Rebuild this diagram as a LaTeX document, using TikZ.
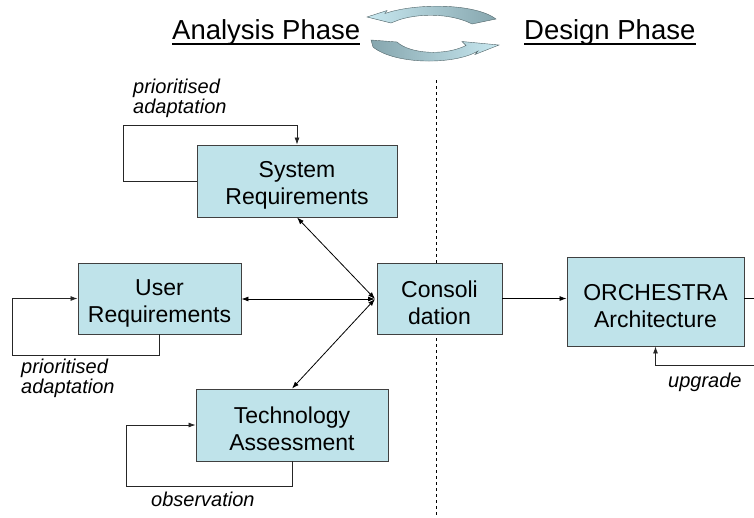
\documentclass[tikz,border=0pt]{standalone}
\usepackage{fontspec}
\setmainfont{Liberation Sans}
\usetikzlibrary{arrows.meta}
\definecolor{boxblue}{HTML}{BFE3EA}
\definecolor{arrlight}{HTML}{C8E8F0}
\definecolor{arrdark}{HTML}{86A6AE}
\newcommand\tstrut{\rule{0pt}{25pt}}
\tikzset{
  box/.style={draw=black!75, line width=0.9pt, fill=boxblue, align=center, inner sep=0pt,
    font=\fontsize{23}{27}\selectfont},
  lbl/.style={font=\fontsize{20}{19.5}\selectfont\itshape, align=left, inner sep=0pt},
  hdr/.style={font=\fontsize{27.5}{30}\selectfont, inner sep=0pt},
  conn/.style={line width=0.8pt, -{Latex[length=7pt,width=5pt]}},
  bconn/.style={line width=0.8pt, {Latex[length=7pt,width=5pt]}-{Latex[length=7pt,width=5pt]}},
  loopl/.style={line width=0.8pt, black!85, -{Latex[length=7pt,width=5pt]}},
  cyc/.style={draw=arrdark!60!black, line width=0.4pt},
}
\begin{document}
\begin{tikzpicture}[x=1pt,y=-1pt]
\useasboundingbox (0,0) rectangle (754,517);
% header
\node[hdr, anchor=base west] (ana) at (172,39) {Analysis Phase};
\draw[line width=1.3pt] (ana.south west |- 0,44) -- (ana.south east |- 0,44);
\node[hdr, anchor=base west] (des) at (524,39) {Design Phase};
\draw[line width=1.3pt] (des.south west |- 0,44) -- (des.south east |- 0,44);
% cycle icon
\shade[cyc, left color=arrlight, right color=arrdark]
  (367,17) -- (387,10.5) -- (385,13.5)
  .. controls (415,3) and (475,3) .. (496,19) -- (472,24)
  .. controls (455,15) and (425,12) .. (400,19.5) -- (391,23) -- cycle;
\shade[cyc, left color=arrdark, right color=arrlight]
  (371,40) -- (373,47)
  .. controls (395,65) and (455,65) .. (478,51) -- (475,54.5) -- (499,45) -- (462,41.5) -- (466,45.5)
  .. controls (445,56) and (410,54) .. (397,42) -- cycle;
% phase separator
\draw[line width=0.8pt, dash pattern=on 3pt off 3pt] (436,80) -- (436,517);
% boxes
\node[box, minimum width=200, minimum height=72] (sys) at (297,181) {\tstrut System\\Requirements};
\node[box, minimum width=163, minimum height=71] (usr) at (159.5,298.5) {\tstrut User\\Requirements};
\node[box, minimum width=125, minimum height=71] (con) at (439.5,298.5) {\tstrut Consoli\\dation};
\node[box, minimum width=192, minimum height=72] (tec) at (292,425) {\tstrut Technology\\Assessment};
\node[box, minimum width=177, minimum height=89] (orc) at (655.5,301.5) {\tstrut ORCHESTRA\\Architecture};
% junction
\coordinate (j) at (375,299);
\draw[bconn] (j) -- (sys.south);
\draw[bconn] (j) -- (usr.east |- j);
\draw[bconn] (j) -- (tec.north);
\draw[conn] (con.east) -- (con.east -| orc.west);
\coordinate (oe) at (754,298.5);
\draw[line width=0.8pt] (orc.east |- oe) -- (oe);
% feedback loops
\draw[loopl] (sys.west) -- (123,181) -- (123,125) -- (sys.north |- 0,125) -- (sys.north);
\node[lbl, anchor=north west] (l1) at (133,79) {prioritised\\adaptation};
\draw[loopl] (usr.south) -- (usr.south |- 0,355) -- (12,355) -- (12,298.5) -- (usr.west);
\node[lbl, anchor=north west] (l2) at (21,359) {prioritised\\adaptation};
\draw[loopl] (tec.south) -- (tec.south |- 0,486) -- (126,486) -- (126,425) -- (tec.west);
\node[lbl, anchor=north west] (l3) at (151,492) {observation};
\coordinate (ue) at (754,365);
\draw[loopl] (ue) -- (orc.south |- ue) -- (orc.south);
\node[lbl, anchor=north west] (l4) at (668,373) {upgrade};
\end{tikzpicture}
\end{document}
